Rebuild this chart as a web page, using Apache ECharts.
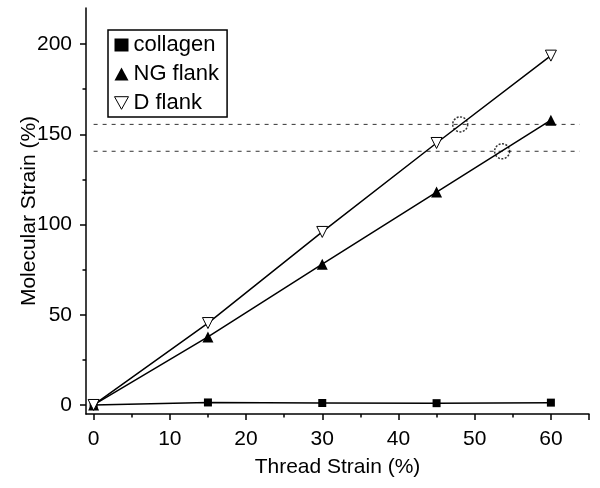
<!DOCTYPE html>
<html><head><meta charset="utf-8">
<script src="https://cdn.jsdelivr.net/npm/echarts@6/dist/echarts.min.js"></script>
<style>html,body{margin:0;padding:0;background:#fff}#c{width:600px;height:488px}</style>
</head><body><div id="c"></div>
<script>
const threadStrain = [0, 15, 30, 45, 60];
const collagen = [0, 1.4, 1.1, 1.0, 1.3];
const ngFlank = [0, 37.7, 78.0, 118.0, 157.8];
const dFlank = [0, 45.4, 95.9, 145.2, 193.6];
const thresholdHigh = 155.5;
const thresholdLow = 140.6;
const crossings = [[48.1, 155.5], [53.6, 140.6]];
const xMajorTicks = [0, 10, 20, 30, 40, 50, 60, 65];
const xLabels = [0, 10, 20, 30, 40, 50, 60];
const xMinorTicks = [5, 15, 25, 35, 45, 55];
const yMajorTicks = [0, 50, 100, 150, 200];
const yMinorTicks = [25, 75, 125, 175];
const dashEnd = [0, 63.8];

const FONT = '"Liberation Sans", Arial, sans-serif';
const pair = (xs, ys) => xs.map((x, i) => [x, ys[i]]);

const chart = echarts.init(document.getElementById('c'));
const baseX = {type: 'value', min: -1, max: 65, position: 'bottom', splitLine: {show: false}};
const baseY = {type: 'value', min: -5, max: 220, position: 'left', splitLine: {show: false}};
chart.setOption({
  animation: false,
  backgroundColor: '#fff',
  textStyle: {fontFamily: FONT},
  grid: {left: 86, right: 11, top: 8, bottom: 74, containLabel: false, outerBoundsMode: 'none'},
  xAxis: [
    Object.assign({}, baseX, {
      name: 'Thread Strain (%)', nameLocation: 'middle', nameGap: 43,
      nameTextStyle: {fontFamily: FONT, fontSize: 21, color: '#000'},
      axisLine: {onZero: false, lineStyle: {color: '#000', width: 1.5}},
      axisTick: {show: true, length: 6, inside: false, customValues: xMajorTicks, lineStyle: {color: '#000', width: 1.5}},
      axisLabel: {customValues: xLabels, fontFamily: FONT, fontSize: 21, color: '#000', margin: 15}
    }),
    Object.assign({}, baseX, {
      axisLine: {show: false, onZero: false},
      axisTick: {show: true, length: 3.5, customValues: xMinorTicks, lineStyle: {color: '#000', width: 1.5}},
      axisLabel: {show: false}
    })
  ],
  yAxis: [
    Object.assign({}, baseY, {
      name: 'Molecular Strain (%)', nameLocation: 'middle', nameGap: 46, nameRotate: 90,
      nameMoveOverlap: false,
      nameTextStyle: {fontFamily: FONT, fontSize: 21, color: '#000'},
      axisLine: {show: true, onZero: false, lineStyle: {color: '#000', width: 1.5}},
      axisTick: {show: true, length: 6, customValues: yMajorTicks, lineStyle: {color: '#000', width: 1.5}},
      axisLabel: {customValues: yMajorTicks, fontFamily: FONT, fontSize: 21, color: '#000', margin: 14}
    }),
    Object.assign({}, baseY, {
      axisLine: {show: false, onZero: false},
      axisTick: {show: true, length: 3.5, customValues: yMinorTicks, lineStyle: {color: '#000', width: 1.5}},
      axisLabel: {show: false}
    })
  ],
  legend: {
    orient: 'vertical', left: 108, top: 30,
    padding: [4, 8, 3, 6], itemGap: 7,
    itemWidth: 14, itemHeight: 13,
    borderColor: '#000', borderWidth: 1.5, backgroundColor: '#fff',
    textStyle: {fontFamily: FONT, fontSize: 22, color: '#000', lineHeight: 22},
    data: [
      {name: 'collagen', icon: 'rect', itemStyle: {color: '#000'}},
      {name: 'NG flank', icon: 'triangle', itemStyle: {color: '#000'}},
      {name: 'D flank', icon: 'path://M0,0 L10,0 L5,9 Z', itemStyle: {color: '#fff', borderColor: '#000', borderWidth: 1}}
    ]
  },
  series: [
    {type: 'line', name: 'threshold-high', data: [[dashEnd[0], thresholdHigh], [dashEnd[1], thresholdHigh]],
     symbol: 'none', lineStyle: {color: '#333', width: 1, type: [4, 5]}, silent: true, z: 1},
    {type: 'line', name: 'threshold-low', data: [[dashEnd[0], thresholdLow], [dashEnd[1], thresholdLow]],
     symbol: 'none', lineStyle: {color: '#333', width: 1, type: [4, 5]}, silent: true, z: 1},
    {type: 'line', name: 'collagen', data: pair(threadStrain, collagen),
     symbol: 'rect', symbolSize: 8, itemStyle: {color: '#000'}, lineStyle: {color: '#000', width: 1.5}, z: 3},
    {type: 'line', name: 'NG flank', data: pair(threadStrain, ngFlank),
     symbol: 'triangle', symbolSize: 11, itemStyle: {color: '#000'}, lineStyle: {color: '#000', width: 1.5}, z: 4},
    {type: 'line', name: 'D flank', data: pair(threadStrain, dFlank),
     symbol: 'triangle', symbolRotate: 180, symbolSize: 11,
     itemStyle: {color: '#fff', borderColor: '#000', borderWidth: 1}, lineStyle: {color: '#000', width: 1.5}, z: 5},
    {type: 'scatter', name: 'crossings', data: crossings, symbol: 'circle', symbolSize: 15,
     itemStyle: {color: 'rgba(0,0,0,0)', borderColor: '#000', borderWidth: 1.5, borderType: [2, 1.5]}, z: 6, silent: true}
  ]
});
</script></body></html>
